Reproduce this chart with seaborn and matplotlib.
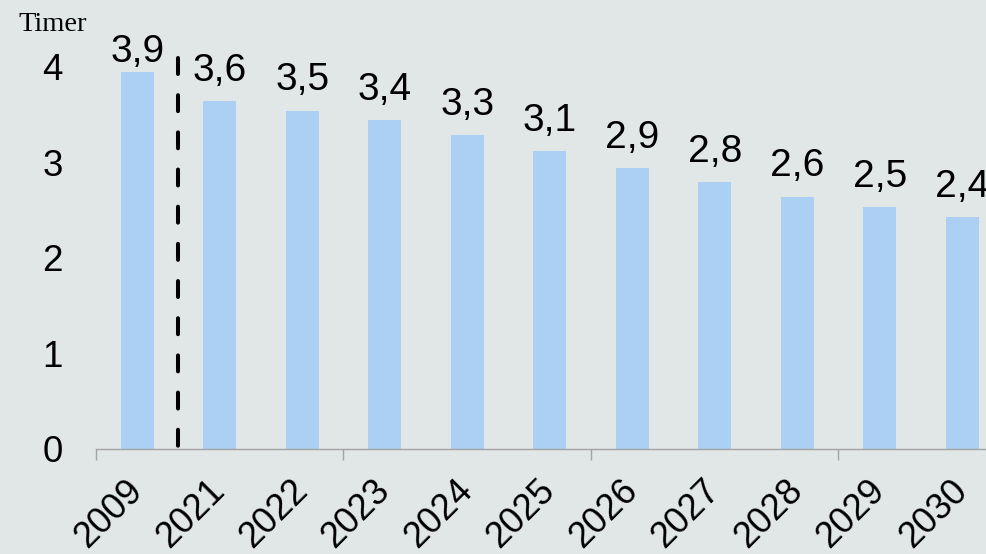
import matplotlib
matplotlib.use("Agg")
import matplotlib.pyplot as plt
import seaborn as sns
import pandas as pd

years = ["2009", "2021", "2022", "2023", "2024", "2025", "2026", "2027", "2028", "2029", "2030"]
values = [3.94, 3.64, 3.54, 3.44, 3.28, 3.12, 2.94, 2.79, 2.64, 2.53, 2.43]
yticks = [0, 1, 2, 3, 4]
y_label = "Timer"

BG = "#e1e6e7"
BAR = "#abd0f3"

sns.set_theme(style="white")
plt.rcParams["font.family"] = ["Liberation Sans", "DejaVu Sans"]

fig = plt.figure(figsize=(9.87, 5.54), dpi=100, facecolor=BG)
ax = fig.add_axes([96 / 987, 105 / 554, 907.5 / 987, 391 / 554])
ax.set_facecolor(BG)

df = pd.DataFrame({"year": years, "value": values})
sns.barplot(data=df, x="year", y="value", color=BAR, saturation=1, width=0.4,
            linewidth=0, edgecolor="none", ax=ax)

ytop = 4.09
ax.set_ylim(0, ytop)
ax.set_xlim(-0.5, len(years) - 0.5)

# value labels (the first one sits closer to its bar, as in the source)
for i, v in enumerate(values):
    off = 7.5 if i == 0 else 14.5
    ax.annotate(f"{v:.1f}".replace(".", ","), (i, v), xytext=(0, off),
                textcoords="offset points", ha="center", va="baseline",
                fontsize=28, color="black", annotation_clip=False)

# dashed separator
ax.plot([0.5, 0.5], [ytop, 0], color="black", lw=2.9,
        linestyle=(0, (3.96, 5.27)), dash_capstyle="round", clip_on=False)

for s in ["left", "right", "top"]:
    ax.spines[s].set_visible(False)
ax.spines["bottom"].set_color("#a3a3a3")
ax.spines["bottom"].set_linewidth(1.0)

# y ticks
ax.set_yticks(yticks)
ax.set_yticklabels([str(t) for t in yticks])
ax.tick_params(axis="y", length=0, pad=24, labelsize=26.5, colors="black")

# x ticks: major marks every 3 categories at boundaries, labels on minor
ax.set_xticks([-0.5, 2.5, 5.5, 8.5])
ax.set_xticklabels([])
ax.tick_params(axis="x", which="major", length=8, width=1.0, color="#a3a3a3", direction="out", bottom=True)
ax.set_xticks(range(len(years)), minor=True)
ax.set_xticklabels(years, minor=True, rotation=45, ha="right", va="center",
                   rotation_mode="anchor", fontsize=26, color="black")
ax.tick_params(axis="x", which="minor", length=0, pad=26, bottom=True)

ax.set_xlabel("")
ax.set_ylabel("")

fig.text(18 / 987, 1 - 30.7 / 554, y_label, ha="left", va="baseline",
         fontsize=20.5, family=["Liberation Serif", "DejaVu Serif"], color="black")

fig.savefig("out.png", dpi=100, facecolor=BG)
